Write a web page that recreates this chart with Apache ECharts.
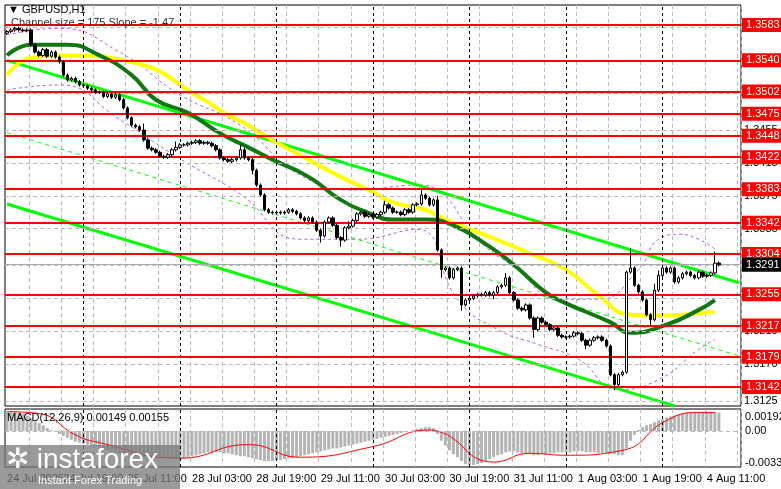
<!DOCTYPE html>
<html><head><meta charset="utf-8">
<script src="https://cdn.jsdelivr.net/npm/echarts@6/dist/echarts.min.js"></script>
<style>html,body{margin:0;padding:0;background:#fff}#c{width:781px;height:489px}</style>
</head><body><div id="c"></div>
<script>
// prices in pips above 1.3000 (583 = 1.3583)
const closes=[575,577,579,577,576,577,559,550,546,553,545,550,544,538,522,516,518,514,510,509,506,504,501,501,496,499,495,498,492,482,470,461,459,455,443,433,431,428,423,422,425,431,434,437,437,439,440,442,439,440,439,436,431,421,419,417,419,421,431,421,419,406,388,376,358,355,354,355,354,355,358,356,353,348,345,348,343,333,326,343,348,339,324,321,336,338,345,353,355,350,352,349,352,355,364,360,355,355,352,358,355,364,365,376,372,364,370,309,285,287,275,285,287,242,248,250,253,255,254,257,254,257,264,266,275,257,248,238,236,242,226,212,226,221,218,212,214,205,203,203,204,208,207,199,193,199,202,203,199,192,157,145,157,160,282,287,266,258,248,230,224,260,278,287,282,287,270,275,280,282,278,275,282,277,278,281,293,291];
const firstOpen=573;
const wickUpExtra={155:22,176:12,161:6,103:5,34:6,42:5,85:4,162:4,107:3,58:4,94:3,124:4};
const wickDnExtra={151:5,108:8,113:5,131:8,78:6,83:6,160:5,144:3,61:3,121:3};
const macdHist=[20,20,20,19,18,16,13,10,8,
6,3,1,-1,-3,-5,-7,-9,-11,-12,-13,-14,
-15,-16,-17,-19,-20,-21,-22,-23,-24,-25,-26,-27,-28,-28,-29,-29,-29,-28,-28,-28,-28,-29,-29,
-28,-27,-26,-25,-24,-23,-22,-22,-22,-22,-23,-23,-24,-25,-26,-26,-27,-28,-29,
-30,-31,-31,-31,-30,-30,-29,-28,-28,-27,-26,-25,-24,
-23,-22,-21,-20,-19,-18,-18,-17,-16,-15,-14,-13,-12,-11,-10,-9,-8,-7,-6,-5,
-4,-3,-2,-1,0,1,2,3,4,4,3,
-3,-10,-15,-20,-24,-27,-31,-34,-35,-35,-34,-33,-31,-29,
-27,-25,-24,-22,-21,-21,-22,-23,-24,-24,-25,-25,-24,-24,-23,-23,-22,-22,-22,-22,
-21,-21,-21,-22,-22,-22,-23,-23,-23,-23,-24,-25,-25,
-18,-10,-4,1,4,6,7,9,11,12,14,15,16,17,18,19,19,20,20,20,20,20,20,19];
const macdSignal=[[0,20],[8,18],[17,-4],[23,-12],[43,-28],[60,-14],[73,-27],[91,-16],[105,1],[107,0],[121,-32],[130,-23],[139,-25],[153,-20],[164,11],[172,19],[176,19]];
const maGreen=[[0,546],[6,559],[15,559],[23,546],[31,522],[37,492],[45,476],[53,451],[60,434],[66,419],[75,398],[83,370],[90,354],[96,346],[104,346],[111,339],[120,313],[126,291],[134,257],[139,244],[150,221],[155,208],[164,218],[172,236],[176,248]];
const maYellow=[[0,522],[6,543],[15,546],[31,538],[49,492],[54,476],[60,461],[66,443],[75,419],[83,398],[90,382],[96,367],[104,358],[109,346],[120,325],[130,305],[139,285],[147,254],[155,230],[164,229],[172,232],[176,233]];
const envUpper=[[0,571],[13,579],[28,550],[43,498],[58,461],[73,400],[87,382],[102,388],[107,382],[117,322],[127,285],[137,249],[147,249],[157,285],[162,322],[167,328],[172,322],[176,310]];
const envLower=[[0,504],[13,510],[28,468],[43,420],[58,377],[73,322],[87,322],[102,334],[112,249],[122,212],[132,194],[142,176],[152,139],[162,151],[172,188],[176,200]];
const chanUpper=[[0,540],[182,269]];
const chanMid=[[0,452],[182,180]];
const chanLower=[[0,365],[166,119]];
const redLevels=[583,540,502,475,448,422,383,342,304,255,217,179,142];
const gridLevels=[580,540,500,455,415,375,335,290,250,210,170,125];
const currentPrice=291;
const daySeps=[19,43,67,91,115,139,163];
const timeLabels={0:'24 Jul 2025',14:'24 Jul 19:00',30:'25 Jul 11:00',46:'28 Jul 03:00',62:'28 Jul 19:00',78:'29 Jul 11:00',94:'30 Jul 03:00',110:'30 Jul 19:00',126:'31 Jul 11:00',142:'1 Aug 03:00',158:'1 Aug 19:00',174:'4 Aug 11:00'};
const N=183;

const cats=[];for(let i=0;i<N;i++)cats.push(i);
const candles=closes.map((c,i)=>{const o=i?closes[i-1]:firstOpen;return [o,c,Math.min(o,c)-2-(wickDnExtra[i]||0),Math.max(o,c)+2+(wickUpExtra[i]||0)];});
const fmt=v=>(1.3+v/10000).toFixed(4);
const F='Liberation Sans';
const lineS=(data,color,w,type,z)=>({type:'line',data,xAxisIndex:0,yAxisIndex:0,symbol:'none',smooth:true,lineStyle:{color,width:w,type:type||'solid'},z:z||3,silent:true});

const chart=echarts.init(document.getElementById('c'));
chart.setOption({
animation:false,
grid:[{left:5,right:40,top:5,height:401,show:true,borderColor:'#000',borderWidth:1},
      {left:5,right:40,top:409,height:58,show:true,borderColor:'#000',borderWidth:1}],
xAxis:[{type:'category',data:cats,gridIndex:0,axisLine:{show:false},axisTick:{show:false},axisLabel:{show:false},
        splitLine:{show:true,interval:(i)=>i%8===6,lineStyle:{color:'#bbb',type:[4,3],width:1}}},
       {type:'category',data:cats,gridIndex:1,axisLine:{show:false},axisTick:{show:false},
        axisLabel:{interval:0,formatter:(v,i)=>timeLabels[i]||'',align:'left',fontSize:11,fontFamily:F,color:'#000',margin:6},
        splitLine:{show:true,interval:(i)=>i%8===6,lineStyle:{color:'#bbb',type:[4,3],width:1}}}],
yAxis:[{type:'value',gridIndex:0,min:118.9,max:607.4,show:false,splitLine:{show:false}},
       {type:'value',gridIndex:1,min:-37.1,max:22.7,show:false,splitLine:{show:false}}],
series:[
 {type:'line',data:[],xAxisIndex:0,yAxisIndex:0,z:1,silent:true,
  markLine:{silent:true,symbol:['none','none'],animation:false,
   lineStyle:{color:'#bbb',type:[4,3],width:1},
   label:{position:'end',distance:3,color:'#000',fontSize:11,fontFamily:F,formatter:p=>fmt(p.value)},
   data:gridLevels.map(v=>({yAxis:v}))}},
 {type:'line',data:[],xAxisIndex:0,yAxisIndex:0,z:1,silent:true,
  markLine:{silent:true,symbol:['none','none'],lineStyle:{color:'#000',type:[3,3],width:1},label:{show:false},
   data:daySeps.map(v=>({xAxis:v}))}},
 {type:'line',data:[],xAxisIndex:1,yAxisIndex:1,z:1,silent:true,
  markLine:{silent:true,symbol:['none','none'],lineStyle:{color:'#000',type:[3,3],width:1},label:{show:false},
   data:daySeps.map(v=>({xAxis:v})).concat([{yAxis:0,lineStyle:{color:'#bbb',type:[4,3]}}])}},
 lineS(envUpper,'#b05ce0',1,[3,3],2),
 lineS(envLower,'#b05ce0',1,[3,3],2),
 Object.assign(lineS(chanUpper,'#00ff00',3,'solid',4),{smooth:false}),
 Object.assign(lineS(chanMid,'#00ff00',1,[4,4],4),{smooth:false}),
 Object.assign(lineS(chanLower,'#00ff00',3,'solid',4),{smooth:false}),
 lineS(maYellow,'#ffff00',4,'solid',4),
 lineS(maGreen,'#117711',4,'solid',4),
 {type:'candlestick',data:candles,xAxisIndex:0,yAxisIndex:0,barWidth:3,z:6,silent:true,
  itemStyle:{color:'#fff',color0:'#000',borderColor:'#000',borderColor0:'#000',borderWidth:1}},
 {type:'line',data:[],xAxisIndex:0,yAxisIndex:0,z:8,silent:true,
  markLine:{silent:true,symbol:['none','none'],
   lineStyle:{color:'#ff0000',type:'solid',width:2},
   label:{position:'end',distance:1,color:'#fff',backgroundColor:'#ff0000',padding:[2,4,1,4],fontSize:11,fontFamily:F,formatter:p=>fmt(p.value)},
   data:redLevels.map(v=>({yAxis:v})).concat([{yAxis:currentPrice,lineStyle:{color:'#aaa',width:1},label:{backgroundColor:'#000',color:'#fff'}}])}},
 {type:'bar',data:macdHist,xAxisIndex:1,yAxisIndex:1,barWidth:3,itemStyle:{color:'#b4b4b4'},z:3,silent:true},
 {type:'line',data:macdSignal,xAxisIndex:1,yAxisIndex:1,symbol:'none',smooth:true,lineStyle:{color:'#ff0000',width:1},z:4,silent:true}
],
graphic:[
 {type:'text',left:8,top:4,style:{text:'▼ GBPUSD,H1',fontSize:11,fontFamily:F,fill:'#000'},z:20},
 {type:'text',left:11,top:17,style:{text:'Channel size = 175 Slope = -1.47',fontSize:11,fontFamily:F,fill:'#333'},z:20},
 {type:'text',left:7,top:412,style:{text:'MACD(12,26,9) 0.00149 0.00155',fontSize:11,fontFamily:F,fill:'#000'},z:20},
 {type:'text',left:745,top:411,style:{text:'0.00192',fontSize:11,fontFamily:F,fill:'#000'},z:20},
 {type:'text',left:745,top:425,style:{text:'0.00',fontSize:11,fontFamily:F,fill:'#000'},z:20},
 {type:'text',left:745,top:457,style:{text:'-0.0033',fontSize:11,fontFamily:F,fill:'#000'},z:20},
 {type:'rect',left:0,top:445,shape:{width:180,height:44},style:{fill:'rgba(120,120,120,0.75)'},z:30},
 {type:'text',left:6,top:446,style:{text:'✲ instaforex',fontSize:28,fontFamily:F,fill:'#fff'},z:31},
 {type:'text',left:38,top:475,style:{text:'Instant Forex Trading',fontSize:11,fontFamily:F,fill:'#fff'},z:31}
]
});
</script></body></html>
